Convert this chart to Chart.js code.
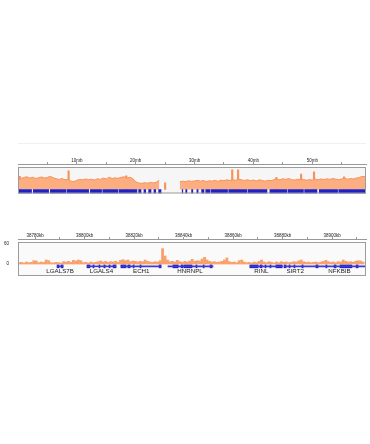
<!DOCTYPE html>
<html>
<head>
<meta charset="utf-8">
<script src="https://cdn.jsdelivr.net/npm/chart.js"></script>
<style>
    html, body { margin: 0; padding: 0; background: #fff; }
    body { width: 370px; height: 444px; position: relative; overflow: hidden; }
    canvas { position: absolute; left: 0; }
    #topRule { position: absolute; left: 18px; top: 143px; width: 348px; border-top: 1px solid #f0f0f0; }
</style>
</head>
<body>
<div id="topRule"></div>
<canvas id="chrChart" width="370" height="60" style="top:140px"></canvas>
<canvas id="regionChart" width="370" height="60" style="top:225px"></canvas>
<script>
// chr19 overview
var chrLengthMb = 59.13;
var chrTicks = [5, 10, 15, 20, 25, 30, 35, 40, 45, 50, 55];
var chrTickLabels = ['', '10mb', '', '20mb', '', '30mb', '', '40mb', '', '50mb', ''];
var chrBinMb = 0.5;
var chrCoverage = [
    45, 50, 55, 58, 52, 56, 50, 54, 57, 52, 55, 60, 53, 49, 46, 50, 44, 47, 38, 36,
    42, 46, 44, 48, 45, 47, 43, 49, 46, 52, 48, 56, 50, 53, 51, 55, 58, 52, 56, 50,
    35, 30, 28, 31, 29, 32, 30, 33, 42, null, null, null, null, null, null,
    35, 38, 36, 40, 37, 39, 42, 38, 41, 36, 40, 38, 42, 37, 43, 40, 44, 41, 45, 42,
    47, 44, 41, 45, 40, 43, 39, 44, 41, 38, 42, 40, 45, 47, 44, 49, 46, 50, 45, 43,
    47, 44, 46, 42, 45, 43, 47, 44, 48, 45, 49, 46, 50, 47, 45, 48, 51, 47, 50, 48,
    52, 55, 60, 58
];
var chrSpikeMb = [0.3, 8.6, 18.4, 25.0, 36.4, 37.4, 43.9, 48.1, 50.3, 55.4];
var chrSpikeValues = [60, 85, 62, 30, 89, 89, 55, 70, 81, 58];
var chrGenes = [
    [0.0, 2.3], [2.6, 5.2], [5.5, 8.1], [8.3, 12.0], [12.3, 14.2], [14.4, 17.0],
    [17.2, 20.2], [20.5, 20.9], [21.4, 21.7], [22.2, 22.6], [23.1, 23.4], [23.9, 24.3],
    [27.9, 28.0], [28.5, 28.7], [29.5, 29.7], [30.4, 30.6], [31.2, 31.6], [31.9, 32.6],
    [32.8, 35.6], [35.8, 38.9], [39.1, 42.3], [42.8, 45.7], [45.9, 48.5], [48.7, 50.8],
    [51.2, 54.3], [54.5, 59.1]
];

// zoomed region, kb
var regionStartKb = 38773.1;
var regionEndKb = 38913.7;
var regionTicks = [38780, 38790, 38800, 38810, 38820, 38830, 38840, 38850, 38860, 38870, 38880, 38890, 38900, 38910];
var regionTickLabels = ['38780kb', '', '38800kb', '', '38820kb', '', '38840kb', '', '38860kb', '', '38880kb', '', '38900kb', ''];
var regionYTicks = [0, 60];
var regionBinStartKb = 38773;
var regionCoverage = [
    4, 5, 3, 6, 4, 5, 10, 9, 4, 6, 5, 12, 10, 4, 3, 5, 4, 3, 7, 6,
    8, 5, 11, 9, 12, 10, 4, 5, 3, 6, 4, 5, 7, 9, 6, 8, 5, 7, 6, 8,
    5, 11, 13, 10, 12, 7, 9, 8, 6, 8, 7, 12, 8, 6, 5, 7, 6, 10, 46, 24,
    12, 7, 8, 6, 11, 7, 5, 8, 6, 9, 14, 8, 10, 9, 15, 20, 12, 8, 6, 7,
    5, 6, 8, 12, 18, 7, 5, 6, 4, 10, 12, 6, 4, 5, 3, 6, 4, 8, 12, 6,
    4, 7, 5, 3, 6, 4, 7, 5, 6, 4, 5, 7, 6, 9, 12, 7, 5, 6, 4, 5,
    6, 4, 6, 8, 11, 7, 5, 6, 4, 7, 6, 12, 8, 6, 7, 5, 8, 10, 9, 6
];
var geneNames = ['LGALS7B', 'LGALS4', 'ECH1', 'HNRNPL', 'RINL', 'SIRT2', 'NFKBIB'];
var geneLabelKb = [38790.1, 38806.8, 38822.9, 38842.6, 38871.4, 38885.1, 38903.0];
var geneSpans = [
    [38788.9, 38791.3], [38801.0, 38812.7], [38814.7, 38830.9], [38833.7, 38851.9],
    [38866.8, 38880.0], [38880.6, 38893.5], [38893.5, 38913.3]
];
var geneExons = [
    [38788.9, 38789.7], [38790.5, 38791.3],
    [38801.0, 38802.2], [38803.4, 38803.8], [38805.8, 38806.2], [38807.8, 38808.3], [38809.9, 38810.3], [38811.5, 38812.7],
    [38814.7, 38816.7], [38817.5, 38818.4], [38819.6, 38820.0], [38822.4, 38822.8], [38830.1, 38830.9],
    [38835.7, 38837.8], [38839.0, 38839.8], [38840.2, 38843.4], [38845.0, 38845.4], [38847.9, 38848.3], [38850.7, 38851.5],
    [38866.8, 38870.1], [38870.9, 38871.7], [38872.9, 38873.3], [38874.9, 38875.3], [38877.3, 38879.8],
    [38880.6, 38881.4], [38882.6, 38883.0], [38884.6, 38885.0], [38887.8, 38888.3],
    [38893.5, 38894.3], [38897.5, 38897.9], [38900.8, 38901.6], [38903.2, 38908.0], [38909.7, 38910.5]
];

var fontFamily = "'Liberation Sans', Arial, sans-serif";
var frameGap = 3;

// light panel with grey border, a little below the top axis line
var framePlugin = {
    id: 'frame',
    beforeDatasetsDraw: function (chart, args, opts) {
        var a = chart.chartArea;
        var ctx = chart.ctx;
        ctx.save();
        ctx.fillStyle = opts.background;
        ctx.fillRect(a.left, a.top + frameGap, a.right - a.left, a.bottom - a.top - frameGap);
        ctx.restore();
    },
    afterDatasetsDraw: function (chart, args, opts) {
        var a = chart.chartArea;
        var ctx = chart.ctx;
        ctx.save();
        ctx.strokeStyle = opts.color;
        ctx.lineWidth = 1;
        ctx.strokeRect(a.left + 0.5, a.top + frameGap + 0.5, a.right - a.left - 1, a.bottom - a.top - frameGap - 1);
        ctx.restore();
    }
};

var geneLabelPlugin = {
    id: 'geneLabels',
    afterDatasetsDraw: function (chart, args, opts) {
        if (!opts.names) return;
        var ctx = chart.ctx;
        var x = chart.scales.x;
        var y = chart.scales.y;
        ctx.save();
        ctx.font = opts.size + 'px ' + fontFamily;
        ctx.fillStyle = '#222';
        ctx.textAlign = 'center';
        ctx.textBaseline = 'middle';
        opts.names.forEach(function (name, i) {
            ctx.fillText(name, x.getPixelForValue(opts.positions[i]), y.getPixelForValue(opts.row));
        });
        ctx.restore();
    }
};

function topAxis(min, max, ticks, labels) {
    return {
        type: 'linear',
        position: 'top',
        min: min,
        max: max,
        offset: false,
        afterBuildTicks: function (s) { s.ticks = ticks.map(function (v) { return { value: v }; }); },
        afterFit: function (s) { s.height = 8; },
        ticks: {
            autoSkip: false,
            maxRotation: 0,
            padding: -1.5,
            color: '#222',
            font: { size: 4.5, family: fontFamily },
            callback: function (v, i) { return labels[i]; }
        },
        grid: { drawOnChartArea: false, offset: false, tickLength: 2, color: '#999' },
        border: { color: '#999' }
    };
}

function buildChrChart() {
    var coverage = chrCoverage.map(function (v, i) { return { x: i * chrBinMb, y: v }; });
    var spikes = chrSpikeMb.map(function (m, i) { return { x: m, y: chrSpikeValues[i] }; });
    var genes = chrGenes.map(function (g) { return { x: g, y: -9 }; });
    new Chart(document.getElementById('chrChart'), {
        type: 'bar',
        data: {
            datasets: [
                {
                    type: 'bar', indexAxis: 'y', data: genes, grouped: false,
                    barThickness: 4, backgroundColor: '#1f1fc6'
                },
                {
                    type: 'line', data: coverage, fill: 'origin', spanGaps: false,
                    pointRadius: 0, borderWidth: 1, tension: 0,
                    borderColor: '#f7925a', backgroundColor: '#fdae80'
                },
                {
                    type: 'bar', data: spikes, grouped: false,
                    barThickness: 1.5, backgroundColor: '#f7925a'
                }
            ]
        },
        options: {
            responsive: false,
            animation: false,
            events: [],
            layout: { padding: { top: 16, left: 18, right: 4, bottom: 6.5 } },
            scales: {
                x: topAxis(0, chrLengthMb, chrTicks, chrTickLabels),
                y: { type: 'linear', min: -18, max: 116, display: false, offset: false }
            },
            plugins: {
                legend: { display: false },
                tooltip: { enabled: false },
                frame: { background: '#f6f6f6', color: '#9c9c9c' },
                geneLabels: {}
            }
        },
        plugins: [framePlugin, geneLabelPlugin]
    });
}

function buildRegionChart() {
    var coverage = regionCoverage.map(function (v, i) { return { x: regionBinStartKb + i + 0.5, y: v }; });
    var spans = geneSpans.map(function (g) { return { x: g, y: -7 }; });
    var exons = geneExons.map(function (g) { return { x: g, y: -7 }; });
    new Chart(document.getElementById('regionChart'), {
        type: 'bar',
        data: {
            datasets: [
                {
                    type: 'bar', data: coverage, grouped: false,
                    barThickness: 2.2, backgroundColor: '#f9a16c'
                },
                {
                    type: 'bar', indexAxis: 'y', data: spans, grouped: false,
                    barThickness: 1, backgroundColor: '#3a3ad6'
                },
                {
                    type: 'bar', indexAxis: 'y', data: exons, grouped: false,
                    barThickness: 3, backgroundColor: '#1c1cc8'
                }
            ]
        },
        options: {
            responsive: false,
            animation: false,
            events: [],
            layout: { padding: { top: 6, left: 4, right: 4, bottom: 9 } },
            scales: {
                x: topAxis(regionStartKb, regionEndKb, regionTicks, regionTickLabels),
                y: {
                    type: 'linear',
                    min: -36,
                    max: 75,
                    offset: false,
                    afterBuildTicks: function (s) { s.ticks = regionYTicks.map(function (v) { return { value: v }; }); },
                    afterFit: function (s) { s.width = 14; },
                    ticks: {
                        padding: 1,
                        color: '#222',
                        font: { size: 4.5, family: fontFamily },
                        callback: function (v) { return String(v); }
                    },
                    grid: { display: false },
                    border: { display: false }
                }
            },
            plugins: {
                legend: { display: false },
                tooltip: { enabled: false },
                frame: { background: '#fafafa', color: '#9c9c9c' },
                geneLabels: { names: geneNames, positions: geneLabelKb, row: -21, size: 6.2 }
            }
        },
        plugins: [framePlugin, geneLabelPlugin]
    });
}

buildChrChart();
buildRegionChart();
</script>
</body>
</html>
